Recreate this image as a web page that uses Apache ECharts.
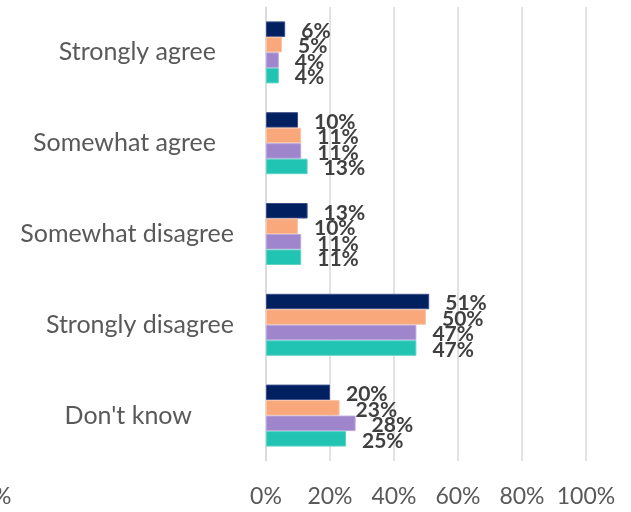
<!DOCTYPE html>
<html>
<head>
<meta charset="utf-8">
<script src="https://cdn.jsdelivr.net/npm/echarts@6/dist/echarts.min.js"></script>
<style>
html,body{margin:0;padding:0;background:#fff;}
#chart{width:631px;height:512px;}
</style>
</head>
<body>
<div id="chart"></div>
<script>
var categories = ["Strongly agree", "Somewhat agree", "Somewhat disagree", "Strongly disagree", "Don't know"];
var seriesNames = ["Series 1", "Series 2", "Series 3", "Series 4"];
var series1 = [6, 10, 13, 51, 20];
var series2 = [5, 11, 10, 50, 23];
var series3 = [4, 11, 11, 47, 28];
var series4 = [4, 13, 11, 47, 25];
var xTicks = [0, 20, 40, 60, 80, 100];

var colors = ["#002060", "#F8A87A", "#9E85CC", "#21C3B2"];
var borders = ["#3a4f8a", "#fbc3a2", "#b9a7dd", "#5fd3c6"];
var allValues = [series1, series2, series3, series4];
var FONT = "Lato";

var padRight = {"Strongly agree": 18, "Somewhat agree": 18, "Somewhat disagree": 0, "Strongly disagree": 0, "Don't know": 42};

var chart = echarts.init(document.getElementById('chart'));
var rich = {};
categories.forEach(function (c, i) {
  rich['c' + i] = {fontFamily: FONT, fontSize: 25, color: '#595959', padding: [0, padRight[c], 0, 0]};
});

var option = {
  animation: false,
  grid: {left: 266, right: 45, top: 7, bottom: 51, containLabel: false},
  xAxis: {
    type: 'value', min: xTicks[0], max: xTicks[xTicks.length - 1], interval: 20,
    axisLine: {show: false}, axisTick: {show: false},
    splitLine: {show: true, lineStyle: {color: '#d9d9d9', width: 1.5}},
    axisLabel: {formatter: '{value}%', color: '#595959', fontFamily: FONT, fontSize: 23, margin: 24}
  },
  yAxis: {
    type: 'category', data: categories, inverse: true,
    axisLine: {show: true, lineStyle: {color: '#d9d9d9', width: 1.5}},
    axisTick: {show: false},
    axisLabel: {
      margin: 32, align: 'right',
      formatter: function (v) { return '{c' + categories.indexOf(v) + '|' + v + '}'; },
      rich: rich
    }
  },
  graphic: [{type: 'text', left: -7, top: 485, style: {text: '%', fontFamily: FONT, fontSize: 23, fill: '#595959'}}],
  series: allValues.map(function (vals, i) {
    return {
      name: seriesNames[i], type: 'bar', data: vals,
      barWidth: 15.5, barGap: '0%',
      itemStyle: {color: colors[i], borderColor: borders[i], borderWidth: 1},
      label: {
        show: true, position: 'right', distance: 16, formatter: '{c}%',
        fontFamily: FONT, fontWeight: 'bold', fontSize: 21, color: '#404040',
        offset: [0, 2]
      }
    };
  })
};
chart.setOption(option);
</script>
</body>
</html>
